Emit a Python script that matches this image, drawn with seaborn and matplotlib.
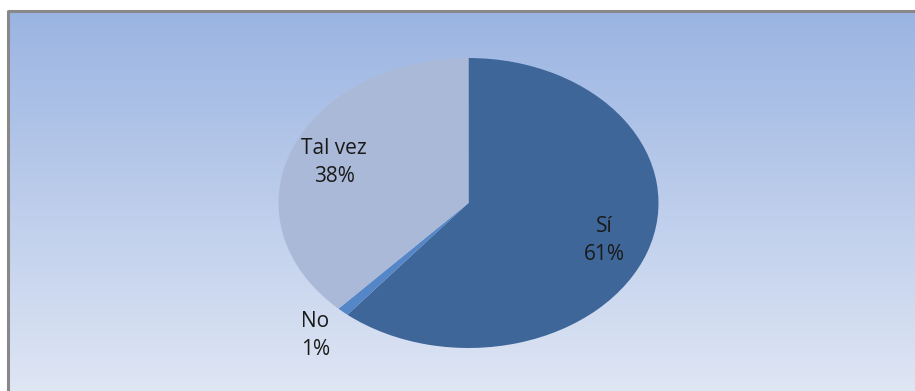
import numpy as np
import matplotlib
matplotlib.use("Agg")
import matplotlib.pyplot as plt
import seaborn as sns

categories = ["Sí", "No", "Tal vez"]
values = [61, 1, 38]
colors_hex = ["#3E6699", "#5587C8", "#AAB9D7"]

sns.set_style("white")
plt.rcParams['font.family'] = ['Open Sans', 'DejaVu Sans']
palette = sns.color_palette(colors_hex)

W, H = 915, 391
fig = plt.figure(figsize=(W / 100, H / 100), dpi=100)
fig.patch.set_facecolor("white")

# background with gradient and frame
bg = fig.add_axes([0, 0, 1, 1])
bg.set_xlim(0, W)
bg.set_ylim(H, 0)
bg.axis("off")
top_c = np.array(matplotlib.colors.to_rgb("#9AB4E2"))
bot_c = np.array(matplotlib.colors.to_rgb("#DFE6F4"))
t = np.linspace(0, 1, 256)[:, None]
grad = top_c[None, :] * (1 - t) + bot_c[None, :] * t
grad = np.repeat(grad[:, None, :], 2, axis=1)
bg.imshow(grad, extent=[8, W + 2, H + 2, 10], aspect="auto", interpolation="bilinear", zorder=0)
bg.plot([8, W + 2], [10.5, 10.5], color="#888888", lw=2.2, zorder=1, solid_capstyle="butt")
bg.plot([8, 8], [10, H + 2], color="#888888", lw=2.2, zorder=1, solid_capstyle="butt")

# pie axes
ax = fig.add_axes([0, 0, 1, 1])
ax.patch.set_alpha(0)
cx, cy = 468.5, 203.0
rx, ry = 190.0, 145.0
wedges, _ = ax.pie(values, colors=palette, startangle=90, counterclock=False,
                   wedgeprops=dict(linewidth=0))
ax.set_aspect("auto")
ax.set_xlim(-cx / rx, (W - cx) / rx)
ax.set_ylim(-(H - cy) / ry, cy / ry)
ax.axis("off")

dists = [0.76, 1.22, 0.76]
for w, cat, val, d in zip(wedges, categories, values, dists):
    ang = np.deg2rad((w.theta1 + w.theta2) / 2)
    x, y = d * np.cos(ang), d * np.sin(ang)
    ax.text(x, y, f"{cat}\n{val}%", ha="center", va="center", fontsize=15,
            color="#1a1a1a", linespacing=1.4)

fig.savefig("out.png", dpi=100)
